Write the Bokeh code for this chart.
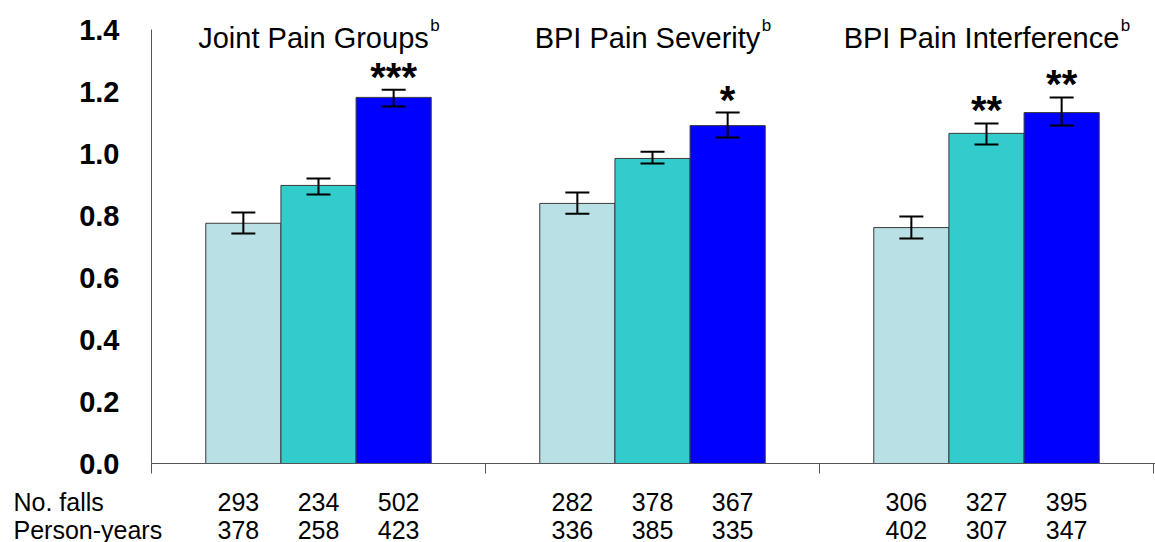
from bokeh.plotting import figure
from bokeh.models import ColumnDataSource, Whisker, TeeHead, FixedTicker, PrintfTickFormatter
from bokeh.core.properties import value
from bokeh.embed import file_html
from bokeh.resources import INLINE

# ---------------- data ----------------
group_titles = ["Joint Pain Groups", "BPI Pain Severity", "BPI Pain Interference"]
title_sup = "b"
means = [[0.775, 0.897, 1.181], [0.839, 0.984, 1.090], [0.761, 1.065, 1.132]]
err_low = [[0.742, 0.868, 1.152], [0.806, 0.968, 1.052], [0.726, 1.029, 1.090]]
err_high = [[0.810, 0.919, 1.206], [0.874, 1.006, 1.132], [0.797, 1.097, 1.181]]
stars = [["", "", "***"], ["", "", "*"], ["", "**", "**"]]
no_falls = [[293, 234, 502], [282, 378, 367], [306, 327, 395]]
person_years = [[378, 258, 423], [336, 385, 335], [402, 307, 347]]
row_labels = ["No. falls", "Person-years"]
y_ticks = [0.0, 0.2, 0.4, 0.6, 0.8, 1.0, 1.2, 1.4]
bar_colors = ["#B9E0E4", "#33CCCC", "#0000FF"]

# ---------------- layout helpers ----------------
FONT = "Liberation Sans"
W, H = 1155, 542
LEFT, BOTTOM = 151, 79
FRAME_W = W - LEFT
FRAME_H = H - BOTTOM
PX_Y = 310.0                  # pixels per y unit
PX_X = 334.0                  # pixels per group unit
Y_MAX = FRAME_H / PX_Y
X_MAX = FRAME_W / PX_X
BAR_W = 0.225
NUM_STEP = 0.24

ARIAL = {" ": 278, "-": 333, ".": 278, "B": 667, "G": 778, "I": 278, "J": 500,
         "P": 667, "S": 667, "a": 556, "c": 500, "e": 556, "f": 278, "i": 222,
         "n": 556, "o": 556, "p": 556, "r": 333, "s": 500, "t": 278, "u": 556,
         "v": 500, "y": 500}


def text_width(s, size):
    return sum(ARIAL.get(ch, 556) for ch in s) / 1000.0 * size


p = figure(width=W, height=H, x_range=(0, X_MAX), y_range=(0, Y_MAX),
           output_backend="svg", toolbar_location=None,
           min_border_left=LEFT, min_border_right=0, min_border_top=0,
           min_border_bottom=BOTTOM)
p.outline_line_color = None
p.xgrid.visible = False
p.ygrid.visible = False
p.background_fill_color = "white"
p.border_fill_color = "white"

# y axis
p.yaxis.ticker = FixedTicker(ticks=y_ticks)
p.yaxis.formatter = PrintfTickFormatter(format="%.1f")
p.yaxis.bounds = (0, 1.4)
p.yaxis.major_label_text_font = FONT
p.yaxis.major_label_text_font_size = "29px"
p.yaxis.major_label_text_font_style = "bold"
p.yaxis.major_label_text_color = "black"
p.yaxis.major_tick_line_color = None
p.yaxis.minor_tick_line_color = None
p.yaxis.axis_line_color = "#555555"
p.yaxis.major_label_standoff = 26

# x axis (group separators as ticks)
p.xaxis.ticker = FixedTicker(ticks=[0, 1, 2, 3])
p.xaxis.major_label_overrides = {0: "", 1: "", 2: "", 3: ""}
p.xaxis.major_label_text_font_size = "1px"
p.xaxis.major_tick_out = 10
p.xaxis.major_tick_in = 0
p.xaxis.minor_tick_line_color = None
p.xaxis.axis_line_color = "#555555"
p.xaxis.major_tick_line_color = "#555555"

# bars
xs, tops, lows, highs, cols = [], [], [], [], []
sx, sy, st = [], [], []
nx, nf, npy = [], [], []
for g in range(3):
    for i in range(3):
        x = g + 0.5 + (i - 1) * BAR_W
        xs.append(x)
        tops.append(means[g][i])
        lows.append(err_low[g][i])
        highs.append(err_high[g][i])
        cols.append(bar_colors[i])
        if stars[g][i]:
            sx.append(x)
            sy.append(err_high[g][i] + 13 / PX_Y)
            st.append(stars[g][i])
        nx.append(g + 0.5 + (i - 1) * NUM_STEP)
        nf.append(str(no_falls[g][i]))
        npy.append(str(person_years[g][i]))

src = ColumnDataSource(dict(x=xs, top=tops, lower=lows, upper=highs, color=cols))
p.vbar(x="x", top="top", bottom=0, width=BAR_W, fill_color="color",
       line_color="#3a3a3a", line_width=1, source=src)

wk = Whisker(base="x", upper="upper", lower="lower", source=src,
             line_color="black", line_width=2, level="overlay",
             upper_head=TeeHead(size=24, line_width=2, line_color="black"),
             lower_head=TeeHead(size=24, line_width=2, line_color="black"))
p.add_layout(wk)

# significance stars
star_src = ColumnDataSource(dict(x=sx, y=sy, text=st))
p.text(x="x", y="y", text="text", source=star_src, text_align="center",
       text_baseline="alphabetic", text_font=value(FONT), text_font_size="40px",
       text_font_style="bold", text_color="black")

# group titles with superscript
TITLE_SIZE = 29
SUP_SIZE = 17
tx, ty, tt, bx, by, bt = [], [], [], [], [], []
for g, t in enumerate(group_titles):
    c = g + 0.5 - 5 / PX_X
    tx.append(c)
    ty.append(37 / -PX_Y + Y_MAX)
    tt.append(t)
    bx.append(c + (text_width(t, TITLE_SIZE) / 2 + 1.5) / PX_X)
    by.append(25 / -PX_Y + Y_MAX)
    bt.append(title_sup)
p.text(x="x", y="y", text="text", source=ColumnDataSource(dict(x=tx, y=ty, text=tt)),
       text_align="center", text_baseline="alphabetic", text_font=value(FONT),
       text_font_size=f"{TITLE_SIZE}px", text_color="black")
p.text(x="x", y="y", text="text", source=ColumnDataSource(dict(x=bx, y=by, text=bt)),
       text_align="left", text_baseline="alphabetic", text_font=value(FONT),
       text_font_size=f"{SUP_SIZE}px", text_color="black")

# rows under the axis
ROW1_Y = -38 / PX_Y
ROW2_Y = -66 / PX_Y
p.text(x="x", y="y", text="text",
       source=ColumnDataSource(dict(x=nx + nx, y=[ROW1_Y] * 9 + [ROW2_Y] * 9, text=nf + npy)),
       text_align="center", text_baseline="alphabetic", text_font=value(FONT),
       text_font_size="25px", text_color="black", level="overlay")
p.text(x="x", y="y", text="text",
       source=ColumnDataSource(dict(x=[-138 / PX_X] * 2, y=[ROW1_Y, ROW2_Y], text=row_labels)),
       text_align="left", text_baseline="alphabetic", text_font=value(FONT),
       text_font_size="25px", text_color="black", level="overlay")

open("out.html", "w").write(file_html(p, INLINE))
